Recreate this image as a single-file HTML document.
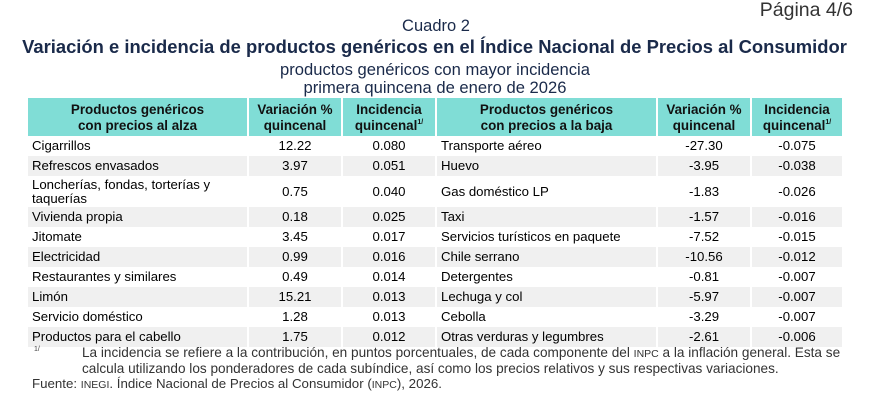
<!DOCTYPE html>
<html><head><meta charset="utf-8"><style>
body{margin:0;width:887px;height:403px;background:#fff;font-family:"Liberation Sans",Arial,sans-serif;position:relative;overflow:hidden;color:#000}
.a{position:absolute;white-space:nowrap}
.c{text-align:center}
table{position:absolute;left:28px;top:98px;border-collapse:collapse;font-size:13.2px;table-layout:fixed}
td,th{padding:0;border-right:2px solid #fff;white-space:nowrap}
th{background:#80ddd6;font-weight:bold;font-size:13.4px;line-height:16px;height:37px;color:#111;padding-top:1px}
td{height:20px;line-height:14px}
tr.g td{background:#f0f0f0}
td.n{text-align:center}
td.t{padding-left:4px}
sup{font-size:7px;line-height:0;vertical-align:6px}
</style></head><body>
<div class="a" style="right:34px;top:-1px;font-size:19.5px;color:#333">Página 4/6</div>
<div class="a c" style="left:0;width:872px;top:17px;font-size:16.5px;color:#1a2a4a">Cuadro 2</div>
<div class="a c" style="left:0;width:869px;top:36px;font-size:18.4px;font-weight:bold;color:#1a2a4a">Variación e incidencia de productos genéricos en el Índice Nacional de Precios al Consumidor</div>
<div class="a c" style="left:0;width:870px;top:60px;font-size:16.6px;color:#1a2a4a">productos genéricos con mayor incidencia</div>
<div class="a c" style="left:0;width:870px;top:78px;font-size:16.6px;color:#1a2a4a">primera quincena de enero de 2026</div>
<table>
<colgroup><col style="width:220px"><col style="width:94px"><col style="width:94px"><col style="width:221px"><col style="width:94px"><col style="width:92px"></colgroup>
<tr><th>Productos genéricos<br>con precios al alza</th><th>Variación %<br>quincenal</th><th>Incidencia<br>quincenal<sup>1/</sup></th><th>Productos genéricos<br>con precios a la baja</th><th>Variación %<br>quincenal</th><th>Incidencia<br>quincenal<sup>1/</sup></th></tr>
<tr><td class="t">Cigarrillos</td><td class="n">12.22</td><td class="n">0.080</td><td class="t">Transporte aéreo</td><td class="n">-27.30</td><td class="n">-0.075</td></tr>
<tr class="g"><td class="t">Refrescos envasados</td><td class="n">3.97</td><td class="n">0.051</td><td class="t">Huevo</td><td class="n">-3.95</td><td class="n">-0.038</td></tr>
<tr><td class="t" style="height:31px">Loncherías, fondas, torterías y<br>taquerías</td><td class="n">0.75</td><td class="n">0.040</td><td class="t">Gas doméstico LP</td><td class="n">-1.83</td><td class="n">-0.026</td></tr>
<tr class="g"><td class="t">Vivienda propia</td><td class="n">0.18</td><td class="n">0.025</td><td class="t">Taxi</td><td class="n">-1.57</td><td class="n">-0.016</td></tr>
<tr><td class="t">Jitomate</td><td class="n">3.45</td><td class="n">0.017</td><td class="t">Servicios turísticos en paquete</td><td class="n">-7.52</td><td class="n">-0.015</td></tr>
<tr class="g"><td class="t">Electricidad</td><td class="n">0.99</td><td class="n">0.016</td><td class="t">Chile serrano</td><td class="n">-10.56</td><td class="n">-0.012</td></tr>
<tr><td class="t">Restaurantes y similares</td><td class="n">0.49</td><td class="n">0.014</td><td class="t">Detergentes</td><td class="n">-0.81</td><td class="n">-0.007</td></tr>
<tr class="g"><td class="t">Limón</td><td class="n">15.21</td><td class="n">0.013</td><td class="t">Lechuga y col</td><td class="n">-5.97</td><td class="n">-0.007</td></tr>
<tr><td class="t">Servicio doméstico</td><td class="n">1.28</td><td class="n">0.013</td><td class="t">Cebolla</td><td class="n">-3.29</td><td class="n">-0.007</td></tr>
<tr class="g"><td class="t">Productos para el cabello</td><td class="n">1.75</td><td class="n">0.012</td><td class="t">Otras verduras y legumbres</td><td class="n">-2.61</td><td class="n">-0.006</td></tr>
</table>
<div class="a" style="left:34px;top:346px;font-size:7px;color:#444">1/</div>
<div class="a" style="left:82px;top:346px;font-size:13.6px;color:#333;line-height:14.5px">La incidencia se refiere a la contribución, en puntos porcentuales, de cada componente del <span style="font-size:10.5px">INPC</span> a la inflación general. Esta se<br>calcula utilizando los ponderadores de cada subíndice, así como los precios relativos y sus respectivas variaciones.</div>
<div class="a" style="left:32px;top:376px;font-size:13.3px;color:#333">Fuente: <span style="font-size:10.5px">INEGI</span>. Índice Nacional de Precios al Consumidor (<span style="font-size:10.5px">INPC</span>), 2026.</div>
</body></html>
